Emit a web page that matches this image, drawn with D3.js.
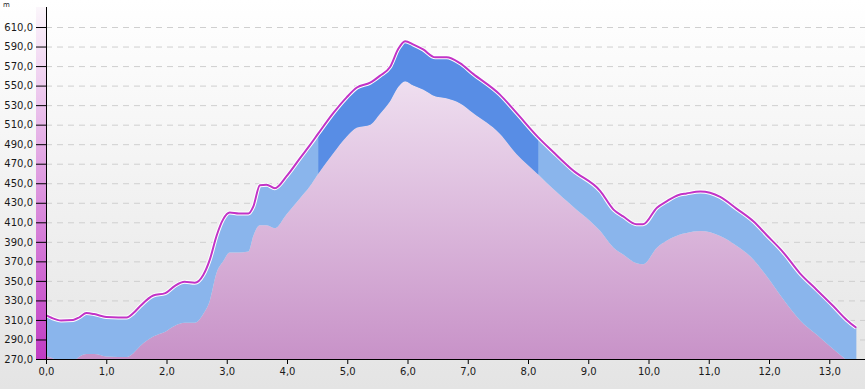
<!DOCTYPE html>
<meta charset="utf-8">
<style>
    body { margin: 0; }
    text { font-family: "DejaVu Sans", sans-serif; font-size: 10px; fill: #1a1a1a; }
    .grid line { stroke: #cfcfcf; stroke-dasharray: 6, 5; }
</style>
<svg id="chart" width="865" height="389"></svg>
<script src="https://cdn.jsdelivr.net/npm/d3@7"></script>
<script>
    // distance along the track (km)
    var dist = [0.00, 0.10, 0.25, 0.45, 0.56, 0.67, 0.80, 1.00, 1.20, 1.34, 1.45, 1.56, 1.78, 1.98, 2.14, 2.30, 2.47,
        2.61, 2.72, 2.83, 2.94, 3.05, 3.20, 3.36, 3.44, 3.55, 3.66, 3.80, 3.99, 4.22, 4.38, 4.52, 4.77, 4.99, 5.16,
        5.38, 5.54, 5.71, 5.85, 5.96, 6.10, 6.26, 6.46, 6.65, 6.87, 7.09, 7.53, 7.81, 8.17, 8.42, 8.75, 9.20, 9.42,
        9.58, 9.80, 9.91, 10.14, 10.30, 10.50, 10.63, 10.86, 11.19, 11.46, 11.74, 11.96, 12.24, 12.51, 12.79, 13.07,
        13.29, 13.45];
    // upper profile (m)
    var upper = [315, 312, 309.5, 310, 313, 317, 316, 313, 312.5, 312.5, 317, 324, 335, 337.5, 345, 349, 348,
        356, 372, 396, 413, 420, 419, 419, 426, 448, 448.5, 445, 457, 476, 489, 501, 522, 538, 548,
        553, 560, 569, 588, 595.5, 592, 587, 579, 579, 573, 562, 541, 522, 497, 482, 463, 442, 423,
        416, 408, 408, 425, 431.5, 438, 439.5, 441.5, 436, 424, 411, 397, 379, 358, 341, 324,
        310, 302];
    // terrain (m)
    var ground = [273, 271, 267, 268, 272.5, 275, 275, 272.5, 272, 272, 276, 283, 293, 298, 304, 307, 307,
        316, 330, 358, 370, 379, 379, 380, 396, 407, 407, 404, 418, 435, 447, 460, 481, 498, 507,
        510, 521, 534, 549, 554.5, 550, 546, 539, 537, 532, 522, 501, 480, 459, 444, 426, 401, 384,
        377, 368, 367, 384, 391, 397, 399, 401, 396, 386, 372, 355, 331, 310, 295, 280,
        269, 263];
    var highlight = [4.52, 8.17];
    var yTicks = d3.range(270, 611, 20);
    var xTicks = d3.range(0, 14, 1);

    var data = dist.map(function (d, i) { return { d: d, up: upper[i], gr: ground[i] }; });

    var svg = d3.select("#chart"),
        W = +svg.attr("width"), H = +svg.attr("height"),
        margin = { top: 7, left: 46, bottom: 30 },
        bottom = H - margin.bottom;

    var x = d3.scaleLinear().domain([0, 13.45]).range([margin.left, margin.left + 13.45 * 60.25]),
        y = d3.scaleLinear().domain([270, 630.5]).range([bottom, margin.top]);

    var defs = svg.append("defs");
    function vgrad(id, stops, y1, y2) {
        var g = defs.append("linearGradient").attr("id", id)
            .attr("gradientUnits", "userSpaceOnUse")
            .attr("x1", 0).attr("x2", 0).attr("y1", y1).attr("y2", y2);
        stops.forEach(function (s) { g.append("stop").attr("offset", s[0]).attr("stop-color", s[1]); });
    }
    vgrad("bg", [[0, "#ffffff"], [1, "#e4e4e4"]], 0, H);
    vgrad("terrain", [[0, "#f9f3fa"], [1, "#c892c8"]], margin.top, bottom);
    vgrad("bar", [[0, "#fbf6fb"], [1, "#c03cc4"]], margin.top, bottom);

    defs.append("clipPath").attr("id", "plot").append("rect")
        .attr("x", x(0)).attr("y", margin.top).attr("width", W - x(0)).attr("height", bottom - margin.top);
    defs.append("clipPath").attr("id", "hl").append("rect")
        .attr("x", x(highlight[0])).attr("y", margin.top)
        .attr("width", x(highlight[1]) - x(highlight[0])).attr("height", bottom - margin.top);

    svg.append("rect").attr("width", W).attr("height", H).attr("fill", "url(#bg)");

    // grid
    svg.append("g").attr("class", "grid")
        .selectAll("line").data(yTicks.slice(1)).enter().append("line")
        .attr("x1", x(0)).attr("x2", W)
        .attr("y1", function (d) { return y(d) + 0.5; }).attr("y2", function (d) { return y(d) + 0.5; });

    var curve = d3.curveMonotoneX;
    var plot = svg.append("g").attr("clip-path", "url(#plot)");

    plot.append("path").datum(data)
        .attr("fill", "url(#terrain)")
        .attr("d", d3.area().curve(curve).x(function (d) { return x(d.d); })
            .y0(bottom).y1(function (d) { return y(d.gr); }));

    var band = d3.area().curve(curve).x(function (d) { return x(d.d); })
        .y0(function (d) { return y(d.gr); }).y1(function (d) { return y(d.up); });

    plot.append("path").datum(data).attr("fill", "#8ab5ec").attr("d", band);
    plot.append("g").attr("clip-path", "url(#hl)")
        .append("path").datum(data).attr("fill", "#588de5").attr("d", band);

    var line = d3.line().curve(curve).x(function (d) { return x(d.d); }).y(function (d) { return y(d.up); });
    svg.append("path").datum(data).attr("fill", "none").attr("stroke", "#ffffff")
        .attr("stroke-width", 4).attr("d", line);
    svg.append("path").datum(data).attr("fill", "none").attr("stroke", "#c233c6")
        .attr("stroke-width", 2).attr("d", line);

    // colour bar at left of axis
    svg.append("rect").attr("x", x(0) - 10).attr("y", margin.top)
        .attr("width", 10).attr("height", bottom - margin.top).attr("fill", "url(#bar)");

    // y axis
    var fmt = function (d) { return d3.format(".1f")(d).replace(".", ","); };
    var yAxis = svg.append("g").attr("transform", "translate(" + x(0) + ",0)")
        .call(d3.axisLeft(y).tickValues(yTicks).tickFormat(fmt).tickSize(10).tickPadding(3).tickSizeOuter(0));
    yAxis.select(".domain").attr("stroke", "#000").attr("d", "M0.5," + margin.top + "V" + bottom);
    yAxis.selectAll(".tick line").attr("stroke", "#000");
    yAxis.selectAll("text").style("font-family", "DejaVu Sans").style("font-size", "10px").attr("fill", "#1a1a1a");

    // x axis
    var xAxis = svg.append("g").attr("transform", "translate(0," + bottom + ")")
        .call(d3.axisBottom(x).tickValues(xTicks).tickFormat(fmt).tickSize(5).tickPadding(4).tickSizeOuter(0));
    xAxis.select(".domain").attr("stroke", "#000").attr("d", "M" + x(0) + ",0.5H" + W);
    xAxis.selectAll(".tick line").attr("stroke", "#000");
    xAxis.selectAll("text").style("font-family", "DejaVu Sans").style("font-size", "10px").attr("fill", "#1a1a1a");

    svg.append("text").attr("x", 3).attr("y", 7).style("font-size", "7px").attr("fill", "#333").text("m");
</script>
